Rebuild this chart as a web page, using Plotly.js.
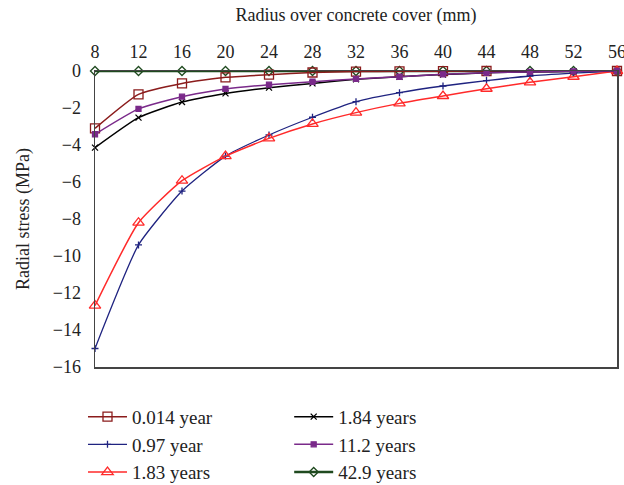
<!DOCTYPE html>
<html>
<head>
<meta charset="utf-8">
<script src="https://cdn.plot.ly/plotly-3.0.1.min.js"></script>
<style>html,body{margin:0;padding:0;background:#fff;}#chart{width:624px;height:485px;}</style>
</head>
<body>
<div id="chart"></div>
<script>
const radius = [8, 12, 16, 20, 24, 28, 32, 36, 40, 44, 48, 52, 56];
const xTicks = [8, 12, 16, 20, 24, 28, 32, 36, 40, 44, 48, 52, 56];
const yTicks = [0, -2, -4, -6, -8, -10, -12, -14, -16];
const yTickLabels = ["0", "−2", "−4", "−6", "−8", "−10", "−12", "−14", "−16"];

const s0014 = [-3.1, -1.26, -0.67, -0.34, -0.2, -0.08, -0.03, -0.02, -0.01, 0, 0.02, 0.02, 0];
const s097  = [-15.0, -9.4, -6.49, -4.6, -3.46, -2.5, -1.66, -1.17, -0.81, -0.52, -0.27, -0.12, 0];
const s183  = [-12.68, -8.2, -5.93, -4.6, -3.64, -2.86, -2.25, -1.75, -1.35, -0.96, -0.61, -0.31, 0];
const s184  = [-4.14, -2.52, -1.68, -1.21, -0.9, -0.67, -0.45, -0.31, -0.19, -0.1, -0.05, -0.02, 0];
const s112  = [-3.42, -2.05, -1.39, -0.97, -0.74, -0.58, -0.43, -0.31, -0.18, -0.1, -0.05, -0.02, 0];
const s429  = [0, 0, 0, 0, 0, 0, 0, 0, 0, 0, 0, 0, 0];

const names = ["0.014 year", "0.97 year", "1.83 years", "1.84 years", "11.2 years", "42.9 years"];

const FONT = "Liberation Serif, Times New Roman, serif";

function tr(y, name, color, symbol, size, lw, legend, rank, mlw) {
  return {
    x: radius, y: y, name: name, type: 'scatter', mode: 'lines+markers',
    line: {color: color, width: lw, shape: 'spline', smoothing: 0.5},
    marker: {symbol: symbol, size: size, color: color, line: {color: color, width: mlw || 1.3}},
    cliponaxis: false, legend: legend, legendrank: rank
  };
}

const data = [
  tr(s429, names[5], '#1f4a1f', 'diamond-open', 7, 2.5, 'legend2', 3),
  tr(s0014, names[0], '#8b1c1c', 'square-open', 9, 1.5, 'legend', 1),
  tr(s097, names[1], '#1f2380', 'cross-thin', 5, 1.3, 'legend', 2),
  tr(s183, names[2], '#ff2a2a', 'triangle-up-open', 10, 1.5, 'legend', 3),
  tr(s184, names[3], '#000000', 'x-thin', 6, 1.5, 'legend2', 1),
  tr(s112, names[4], '#7a2a8a', 'square', 5, 1.5, 'legend2', 2)
];

const legendBase = {
  yanchor: 'top', xanchor: 'left', orientation: 'v', y: -0.104,
  font: {family: FONT, size: 19, color: '#222'},
  bgcolor: 'rgba(0,0,0,0)', tracegroupgap: 0, itemwidth: 39
};

const layout = {
  width: 624, height: 485,
  margin: {l: 95, r: 7, t: 71, b: 118, autoexpand: false},
  paper_bgcolor: '#fff', plot_bgcolor: '#fff',
  font: {family: FONT, size: 18, color: '#222'},
  showlegend: true,
  xaxis: {
    side: 'top', range: [8, 56], tickvals: xTicks, ticktext: xTicks.map(String),
    showgrid: false, zeroline: false, showline: true, mirror: true,
    linecolor: '#444', linewidth: 1.5, ticks: '', ticklabelstandoff: 4,
    ticklabeloverflow: 'allow', automargin: false,
    tickfont: {family: FONT, size: 18, color: '#222'},
    title: {text: 'Radius over concrete cover (mm)', font: {family: FONT, size: 18, color: '#222'}, standoff: 16}
  },
  yaxis: {
    range: [-16, 0], tickvals: yTicks, ticktext: yTickLabels,
    showgrid: false, zeroline: false, showline: true, mirror: true,
    linecolor: '#444', linewidth: 1.5, ticks: '', ticklabelstandoff: 9,
    ticklabeloverflow: 'allow', automargin: false,
    tickfont: {family: FONT, size: 18, color: '#222'},
    title: {text: 'Radial stress (MPa)', font: {family: FONT, size: 18, color: '#222'}, standoff: 18}
  },
  legend: Object.assign({}, legendBase, {x: -0.023}),
  legend2: Object.assign({}, legendBase, {x: 0.372})
};

Plotly.newPlot('chart', data, layout, {displayModeBar: false, staticPlot: true});
</script>
</body>
</html>
